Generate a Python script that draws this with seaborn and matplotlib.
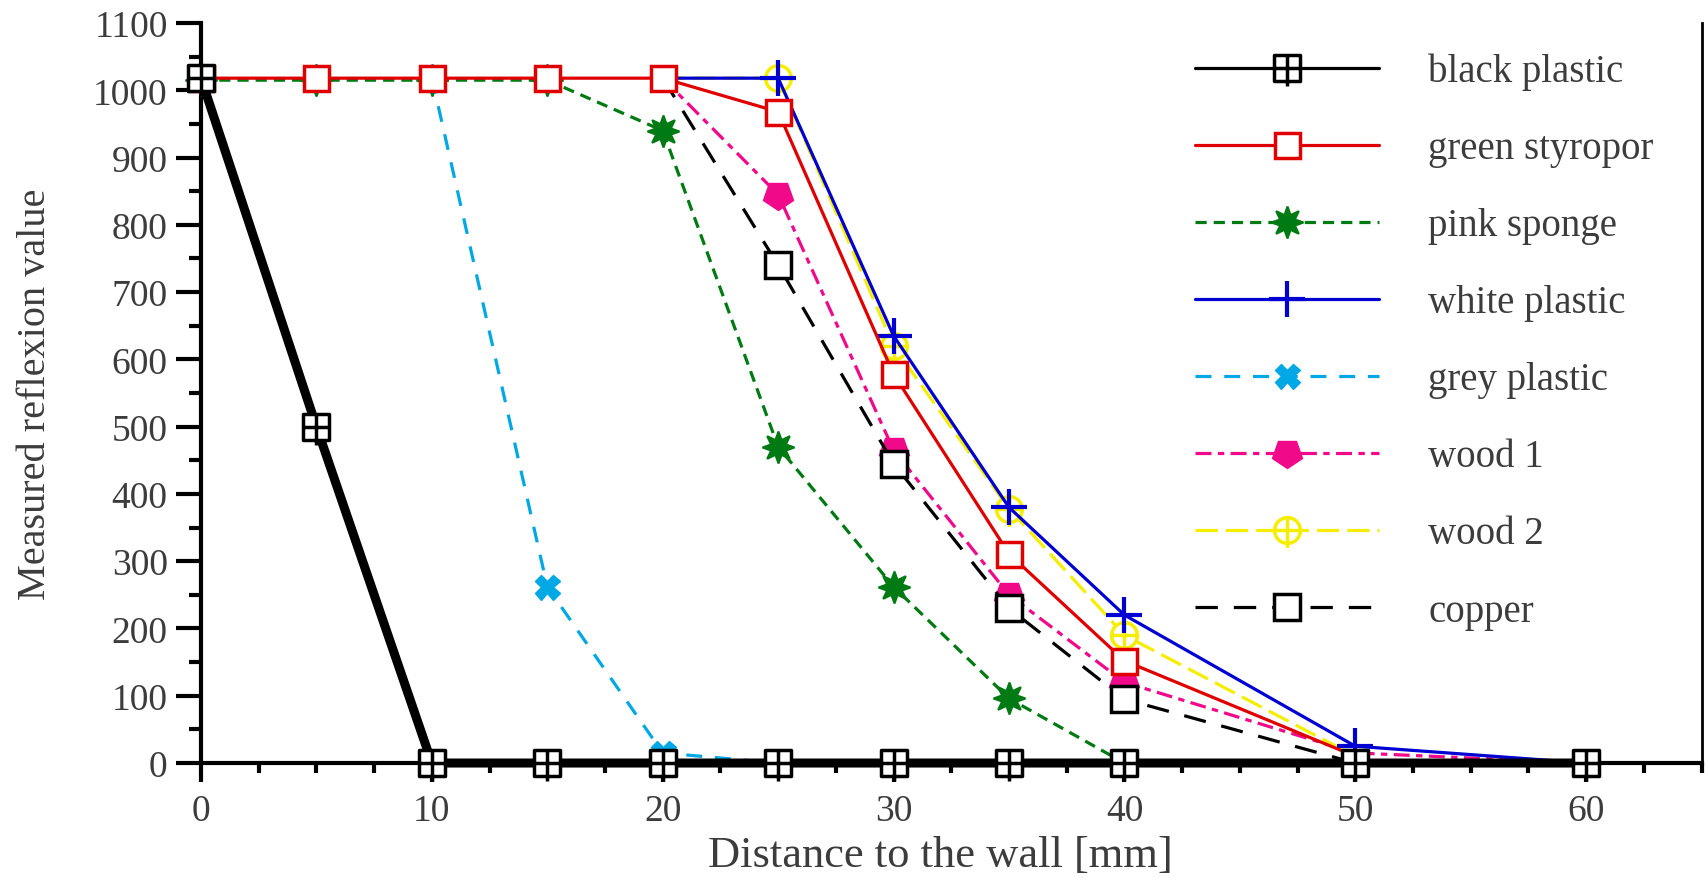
import numpy as np
import matplotlib
matplotlib.use("Agg")
import matplotlib.pyplot as plt
from matplotlib.path import Path
from matplotlib.markers import MarkerStyle
from matplotlib.transforms import Affine2D
from matplotlib.ticker import MultipleLocator
from matplotlib.lines import Line2D
import seaborn as sns

# ---------------- data ----------------
labels = ["black plastic", "green styropor", "pink sponge", "white plastic",
          "grey plastic", "wood 1", "wood 2", "copper"]

black_plastic_x = [0, 5, 10, 15, 20, 25, 30, 35, 40, 50, 60]
black_plastic_y = [1018, 500, 0, 0, 0, 0, 0, 0, 0, 0, 0]

green_styropor_x = [0, 5, 10, 15, 20, 25, 30, 35, 40, 50]
green_styropor_y = [1018, 1018, 1018, 1018, 1018, 968, 578, 311, 152, 10]

pink_sponge_x = [0, 5, 10, 15, 20, 25, 30, 35, 40]
pink_sponge_y = [1015, 1015, 1015, 1015, 940, 470, 262, 96, 0]

white_plastic_x = [20, 25, 30, 35, 40, 50, 60]
white_plastic_y = [1018, 1018, 635, 380, 220, 25, 0]

grey_plastic_x = [10, 15, 20, 25]
grey_plastic_y = [1018, 262, 15, 0]

wood1_x = [20, 25, 30, 35, 40, 50, 60]
wood1_y = [1018, 845, 465, 250, 120, 15, 0]

wood2_x = [20, 25, 30, 35, 40, 50]
wood2_y = [1018, 1018, 620, 378, 190, 10]

copper_x = [20, 25, 30, 35, 40, 50]
copper_y = [1018, 740, 445, 230, 95, 0]

x_ticks = [0, 10, 20, 30, 40, 50, 60]
y_ticks = [0, 100, 200, 300, 400, 500, 600, 700, 800, 900, 1000, 1100]

# ---------------- style ----------------
sns.set_theme(style="white")
plt.rcParams['font.family'] = ['Liberation Serif', 'DejaVu Serif']
TXT = '#3c3c3c'

def box_cross():
    v = [(-1, -1), (1, -1), (1, 1), (-1, 1), (-1, -1),
         (0, -1.35), (0, 1), (-1, 0), (1, 0)]
    c = [Path.MOVETO, Path.LINETO, Path.LINETO, Path.LINETO, Path.CLOSEPOLY,
         Path.MOVETO, Path.LINETO, Path.MOVETO, Path.LINETO]
    return Path(v, c)

def circle_cross():
    circ = Path.circle((0, 0), 1.0)
    cross = Path([(0, -1.35), (0, 1), (-1, 0), (1, 0)],
                 [Path.MOVETO, Path.LINETO, Path.MOVETO, Path.LINETO])
    return Path.make_compound_path(circ, cross)

heart = MarkerStyle('p', transform=Affine2D().rotate_deg(180))

fig = plt.figure(figsize=(17.05, 8.79), dpi=100)
ax = fig.add_axes([0.1179, 0.1308, 0.8801, 0.8419])

LW = 2.3
series = [
    dict(x=green_styropor_x, y=green_styropor_y, color='#e00000', marker='s', ms=18,
         mfc='white', mew=2.5, ls='-', lw=LW, markevery=list(range(9)), z=6),
    dict(x=pink_sponge_x, y=pink_sponge_y, color='#007a12', marker=(8, 1, 0), ms=23,
         mfc='#007a12', mew=1.5, ls=(0, (3.5, 2.2)), lw=LW, markevery=list(range(8)), z=3),
    dict(x=white_plastic_x, y=white_plastic_y, color='#0000d2', marker='+', ms=26,
         mfc='none', mew=3, ls='-', lw=LW, markevery=[1, 2, 3, 4, 5], z=5),
    dict(x=grey_plastic_x, y=grey_plastic_y, color='#00a8e6', marker='X', ms=18,
         mfc='#00a8e6', mew=1, ls=(0, (5, 4)), lw=LW, markevery=[1, 2], z=3),
    dict(x=wood1_x, y=wood1_y, color='#f00a8a', marker=heart, ms=22,
         mfc='#f00a8a', mew=1, ls=(0, (5, 2, 2, 2)), lw=LW, markevery=[1, 2, 3, 4], z=4),
    dict(x=wood2_x, y=wood2_y, color='#f5ee00', marker=circle_cross(), ms=25,
         mfc='white', mew=2.5, ls=(0, (7, 2.5)), lw=LW, markevery=[1, 2, 3, 4], z=4),
    dict(x=copper_x, y=copper_y, color='black', marker='s', ms=19,
         mfc='white', mew=2.5, ls=(0, (7, 5)), lw=LW, markevery=[1, 2, 3, 4], z=4),
]

handles = {}
for lab, s in zip(labels[1:], series):
    sns.lineplot(x=s['x'], y=s['y'], ax=ax, color=s['color'], marker=s['marker'],
                 markersize=s['ms'], mec=s['color'], mfc=s['mfc'], mew=s['mew'],
                 linestyle=s['ls'], linewidth=s['lw'], markevery=s['markevery'],
                 errorbar=None, clip_on=False, zorder=s['z'], label=lab, sort=False)
    handles[lab] = ax.get_lines()[-1]

sns.lineplot(x=black_plastic_x, y=black_plastic_y, ax=ax, color='black',
             marker=box_cross(), markersize=26, mec='black', mfc='white', mew=2.5,
             linewidth=6.5, errorbar=None, clip_on=False, zorder=7,
             label=labels[0], sort=False)
# thin legend proxy for the black plastic series (legend shows a thin line)
handles[labels[0]] = Line2D([], [], color='black', lw=LW, marker=box_cross(),
                            markersize=26, mec='black', mfc='white', mew=2.5)

# ---------------- axes ----------------
ax.set_xlim(0, 65)
ax.set_ylim(0, 1100)
ax.set_xticks(x_ticks)
ax.set_yticks(y_ticks)
ax.xaxis.set_minor_locator(MultipleLocator(2.5))
ax.yaxis.set_minor_locator(MultipleLocator(50))

for side in ['left', 'bottom']:
    ax.spines[side].set_linewidth(3)
    ax.spines[side].set_color('black')
ax.spines['right'].set_linewidth(2)
ax.spines['right'].set_color('black')
ax.spines['top'].set_visible(False)

ax.tick_params(axis='both', which='both', direction='out', colors='black',
               labelcolor=TXT, labelsize=27)
ax.tick_params(axis='y', which='major', length=18, width=3, pad=6, left=True)
ax.tick_params(axis='y', which='minor', length=9, width=3, left=True)
ax.tick_params(axis='x', which='major', length=14, width=3, pad=8, bottom=True)
ax.tick_params(axis='x', which='minor', length=7, width=3, bottom=True)

ax.set_xlabel("Distance to the wall [mm]", fontsize=32, color=TXT)
ax.xaxis.set_label_coords(0.4925, -0.1515)
ax.xaxis.label.set_verticalalignment('bottom')
ax.set_ylabel("Measured reflexion value", fontsize=29, color=TXT, labelpad=28)
ax.grid(False)

leg = ax.legend([handles[l] for l in labels], labels, loc='upper left',
                bbox_to_anchor=(0.701, 0.939), bbox_transform=fig.transFigure,
                frameon=False, fontsize=28, handlelength=4.73, handletextpad=1.26,
                labelspacing=1.03, borderpad=0, borderaxespad=0, numpoints=1)
for t in leg.get_texts():
    t.set_color(TXT)

fig.savefig("out.png", dpi=100)
